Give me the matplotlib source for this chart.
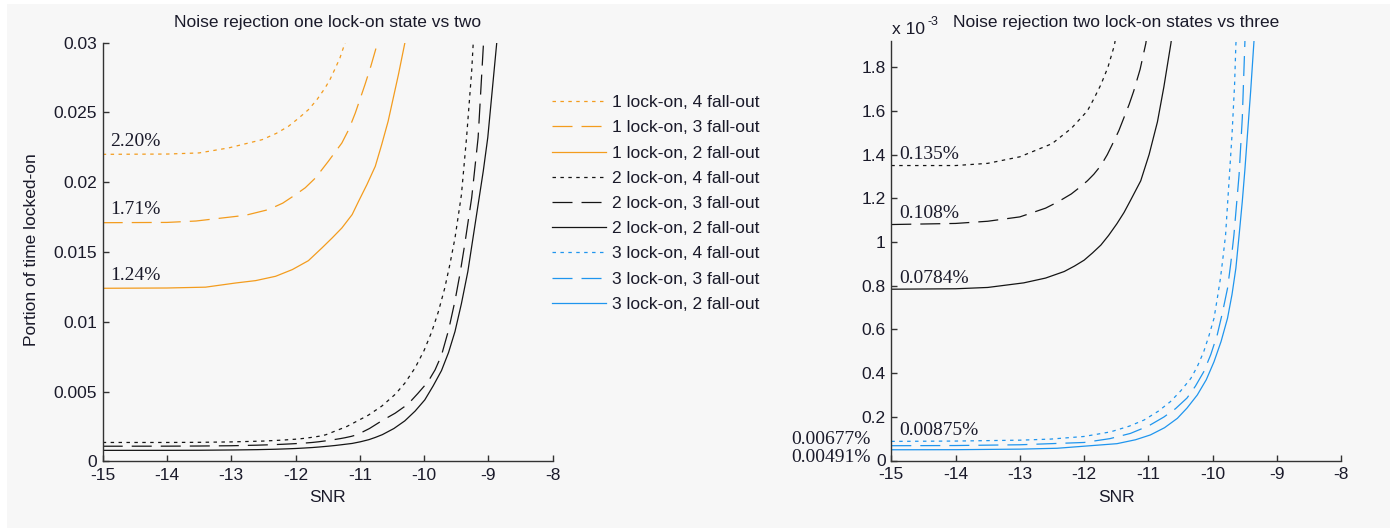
import matplotlib
matplotlib.use("Agg")
import matplotlib.pyplot as plt
from matplotlib.patches import Rectangle
from matplotlib.lines import Line2D

plt.rcParams["font.family"] = ["Liberation Sans", "DejaVu Sans"]
plt.rcParams["lines.scale_dashes"] = False

# ---------------------------------------------------------------- data
# SNR (dB) against portion of time spent locked-on.
# 1 lock-on state
snr_1l_4f = [-15, -14, -13.5, -13.04, -12.52, -12.3, -12.11, -11.95, -11.80, -11.67, -11.54,
             -11.46, -11.38, -11.31, -11.24, -11.15]
val_1l_4f = [0.0220, 0.02202, 0.0221, 0.02246, 0.02305, 0.0235, 0.02401, 0.0246, 0.02520, 0.0259, 0.02676,
             0.0274, 0.02819, 0.0289, 0.02986, 0.0310]

snr_1l_3f = [-15, -14, -13.55, -12.78, -12.42, -12.2, -12.0, -11.85, -11.69, -11.49, -11.28,
             -11.17, -11.07, -10.92, -10.83, -10.74, -10.70]
val_1l_3f = [0.0171, 0.01712, 0.01722, 0.01763, 0.01804, 0.0185, 0.01911, 0.0196, 0.02031, 0.0215, 0.02281,
             0.0238, 0.02497, 0.0270, 0.0283, 0.02974, 0.0305]

snr_1l_2f = [-15, -14, -13.4, -12.93, -12.62, -12.31, -12.05, -11.80, -11.59, -11.43, -11.28, -11.12,
             -11.02, -10.89, -10.76, -10.66, -10.56, -10.48, -10.40, -10.30, -10.27]
val_1l_2f = [0.0124, 0.01242, 0.01248, 0.01278, 0.01295, 0.01326, 0.01374, 0.01438, 0.01529, 0.01601, 0.01672, 0.01768,
             0.01863, 0.01983, 0.02114, 0.0227, 0.02437, 0.02604, 0.02771, 0.02998, 0.0310]

# 2 lock-on states
snr_2l_4f = [-15, -14, -13.5, -13, -12.5, -12.2, -11.95, -11.85, -11.74, -11.63, -11.53, -11.2, -10.87,
             -10.66, -10.45, -10.3, -10.14, -10.0, -9.88, -9.78, -9.68, -9.6, -9.52, -9.42, -9.34, -9.26, -9.23]
val_2l_4f = [1.35e-3, 1.35e-3, 1.36e-3, 1.39e-3, 1.45e-3, 1.52e-3, 1.60e-3, 1.655e-3, 1.72e-3, 1.80e-3, 1.90e-3, 2.5e-3, 3.3e-3,
             3.95e-3, 4.8e-3, 5.6e-3, 6.7e-3, 7.95e-3, 9.3e-3, 10.7e-3, 12.4e-3, 14.1e-3, 16.0e-3, 19.1e-3, 23.2e-3, 28.0e-3, 30.5e-3]

snr_2l_3f = [-15, -14, -13.5, -13, -12.6, -12.4, -12.2, -12.07, -11.95, -11.85, -11.74, -11.64, -11.54, -11.46,
             -11.38, -11.3, -11.23, -11.13, -11.04, -10.85, -10.66, -10.45, -10.25, -10.1, -9.94, -9.83, -9.73,
             -9.62, -9.52, -9.44, -9.37, -9.26, -9.16, -9.07]
val_2l_3f = [1.08e-3, 1.085e-3, 1.095e-3, 1.115e-3, 1.155e-3, 1.185e-3, 1.22e-3, 1.25e-3, 1.28e-3, 1.31e-3, 1.35e-3, 1.40e-3,
             1.46e-3, 1.51e-3, 1.57e-3, 1.63e-3, 1.69e-3, 1.79e-3, 1.91e-3, 2.35e-3, 2.9e-3, 3.45e-3, 4.1e-3, 4.85e-3,
             5.7e-3, 6.55e-3, 7.6e-3, 9.4e-3, 11.5e-3, 13.5e-3, 15.5e-3, 18.9e-3, 23.2e-3, 30.5e-3]

snr_2l_2f = [-15, -14, -13.5, -12.94, -12.6, -12.31, -12.15, -12.0, -11.87, -11.74, -11.62, -11.49, -11.38,
             -11.28, -11.12, -10.99, -10.86, -10.76, -10.65, -10.47, -10.30, -10.14, -9.99, -9.86, -9.73,
             -9.62, -9.52, -9.42, -9.32, -9.24, -9.16, -9.08, -9.01, -8.86]
val_2l_2f = [0.784e-3, 0.786e-3, 0.792e-3, 0.813e-3, 0.835e-3, 0.865e-3, 0.89e-3, 0.917e-3, 0.95e-3, 0.986e-3, 1.03e-3,
             1.084e-3, 1.135e-3, 1.19e-3, 1.28e-3, 1.40e-3, 1.55e-3, 1.71e-3, 1.91e-3, 2.35e-3, 2.9e-3, 3.6e-3,
             4.4e-3, 5.4e-3, 6.5e-3, 7.8e-3, 9.3e-3, 11.3e-3, 13.6e-3, 16.0e-3, 18.4e-3, 20.8e-3, 23.2e-3, 30.5e-3]

# 3 lock-on states
snr_3l_4f = [-15, -14, -13, -12.52, -12.0, -11.59, -11.3, -11.07, -10.85, -10.66, -10.5, -10.34, -10.24, -10.14,
             -10.06, -9.98, -9.93, -9.88, -9.84, -9.80, -9.75, -9.70, -9.66, -9.64, -9.62]
val_3l_4f = [8.75e-5, 8.9e-5, 9.3e-5, 9.8e-5, 1.10e-4, 1.31e-4, 1.57e-4, 1.85e-4, 2.25e-4, 2.69e-4, 3.18e-4, 3.76e-4,
             4.3e-4, 4.98e-4, 5.7e-4, 6.51e-4, 7.4e-4, 8.34e-4, 9.3e-4, 1.033e-3, 1.262e-3, 1.491e-3, 1.721e-3,
             1.904e-3, 2.0e-3]

snr_3l_3f = [-15, -14, -13, -12.0, -11.6, -11.28, -11.0, -10.76, -10.58, -10.40, -10.27, -10.14,
             -10.03, -9.93, -9.85, -9.77, -9.72, -9.67, -9.59, -9.54, -9.50, -9.49]
val_3l_3f = [6.77e-5, 6.85e-5, 7.2e-5, 8.25e-5, 1.0e-4, 1.24e-4, 1.58e-4, 1.99e-4, 2.37e-4, 2.86e-4, 3.4e-4, 4.06e-4,
             4.85e-4, 5.75e-4, 6.75e-4, 7.88e-4, 9.0e-4, 1.033e-3, 1.308e-3, 1.568e-3, 1.912e-3, 2.0e-3]

snr_3l_2f = [-15, -14, -13, -12.42, -11.49, -11.2, -10.97, -10.75, -10.55, -10.4, -10.24, -10.1, -9.98,
             -9.87, -9.77, -9.7, -9.64, -9.59, -9.54, -9.50, -9.46, -9.41, -9.36, -9.34]
val_3l_2f = [4.91e-5, 4.95e-5, 5.2e-5, 5.6e-5, 7.7e-5, 9.5e-5, 1.17e-4, 1.50e-4, 1.93e-4, 2.4e-4, 3.00e-4, 3.7e-4, 4.52e-4,
             5.45e-4, 6.51e-4, 7.6e-4, 8.80e-4, 1.03e-3, 1.186e-3, 1.33e-3, 1.491e-3, 1.69e-3, 1.912e-3, 2.0e-3]

labels = ["1 lock-on, 4 fall-out", "1 lock-on, 3 fall-out", "1 lock-on, 2 fall-out",
          "2 lock-on, 4 fall-out", "2 lock-on, 3 fall-out", "2 lock-on, 2 fall-out",
          "3 lock-on, 4 fall-out", "3 lock-on, 3 fall-out", "3 lock-on, 2 fall-out"]

x_ticks = [-15, -14, -13, -12, -11, -10, -9, -8]
left_yticks = [0, 0.005, 0.01, 0.015, 0.02, 0.025, 0.03]
left_yticklabels = ["0", "0.005", "0.01", "0.015", "0.02", "0.025", "0.03"]
right_yticks = [0, 0.2, 0.4, 0.6, 0.8, 1.0, 1.2, 1.4, 1.6, 1.8]
right_yticklabels = ["0", "0.2", "0.4", "0.6", "0.8", "1", "1.2", "1.4", "1.6", "1.8"]

# ---------------------------------------------------------------- styles
ORANGE = "#f39c1e"
BLACK = "#151515"
BLUE = "#1f95ee"
TEXT = "#1a1a2a"
PANEL = "#f7f7f7"
DOTTED = (0, (2.5, 3.2))
DASHED = (0, (14.4, 6.5))
SOLID = "-"
LW = 0.9

W, H = 1397, 531
fig = plt.figure(figsize=(W / 100, H / 100), dpi=100)
fig.patch.set_facecolor("white")
fig.patches.append(Rectangle((7 / W, 3 / H), (1390 - 7) / W, (528 - 4) / H,
                             transform=fig.transFigure, facecolor=PANEL,
                             edgecolor="none", zorder=-10))


def px_axes(x0, y0, x1, y1):
    """Axes box given in pixel coordinates measured from the top-left corner."""
    return fig.add_axes([x0 / W, 1 - y1 / H, (x1 - x0) / W, (y1 - y0) / H])


ax1 = px_axes(102.7, 42.7, 552.7, 461.3)
ax2 = px_axes(891.3, 41.0, 1341.3, 460.5)

for ax in (ax1, ax2):
    ax.patch.set_visible(False)
    for side in ("top", "right"):
        ax.spines[side].set_visible(False)
    for side in ("left", "bottom"):
        ax.spines[side].set_color("#333333")
        ax.spines[side].set_linewidth(1.0)
    ax.set_xlim(-15, -8)
    ax.set_xticks(x_ticks)
    ax.set_xticklabels([str(t) for t in x_ticks])
    ax.tick_params(axis="both", direction="in", length=4.5, width=1.0,
                   color="#333333", labelsize=12.5, labelcolor=TEXT)
    ax.tick_params(axis="x", pad=5)
    ax.tick_params(axis="y", pad=4)

ax1.set_ylim(0, 0.03)
ax1.set_yticks(left_yticks)
ax1.set_yticklabels(left_yticklabels)
ax2.set_ylim(0, 1.92)
ax2.set_yticks(right_yticks)
ax2.set_yticklabels(right_yticklabels)

series = [
    (snr_1l_4f, val_1l_4f, ORANGE, DOTTED),
    (snr_1l_3f, val_1l_3f, ORANGE, DASHED),
    (snr_1l_2f, val_1l_2f, ORANGE, SOLID),
    (snr_2l_4f, val_2l_4f, BLACK, DOTTED),
    (snr_2l_3f, val_2l_3f, BLACK, DASHED),
    (snr_2l_2f, val_2l_2f, BLACK, SOLID),
    (snr_3l_4f, val_3l_4f, BLUE, DOTTED),
    (snr_3l_3f, val_3l_3f, BLUE, DASHED),
    (snr_3l_2f, val_3l_2f, BLUE, SOLID),
]

# left panel: one vs two lock-on states; right panel: two vs three (scaled by 1e3)
for i, (x, y, c, ls) in enumerate(series):
    if i < 6:
        ax1.plot(x, y, color=c, linestyle=ls, linewidth=LW)
    if i >= 3:
        ax2.plot(x, [v * 1e3 for v in y], color=c, linestyle=ls, linewidth=LW)

serif = dict(family=["Liberation Serif", "DejaVu Serif"], size=14, color=TEXT)


def pct(v, fmt):
    return format(100 * v, fmt) + "%"


# starting levels labelled on the curves
for x, y, _, _ in series[:3]:
    ax1.annotate(pct(y[0], ".2f"), xy=(x[0], y[0]), xytext=(5.5, 6),
                 textcoords="offset points", va="baseline", ha="left", **serif)
for x, y, _, _ in series[3:7]:
    ax2.annotate(pct(y[0], ".3g"), xy=(x[0], y[0] * 1e3), xytext=(5.5, 4.5),
                 textcoords="offset points", va="baseline", ha="left", **serif)
ax2.annotate(pct(val_3l_3f[0], ".3g"), xy=(snr_3l_3f[0], val_3l_3f[0] * 1e3), xytext=(-15, 1.5),
             textcoords="offset points", va="baseline", ha="right",
             annotation_clip=False, **serif)
ax2.annotate(pct(val_3l_2f[0], ".3g"), xy=(snr_3l_2f[0], val_3l_2f[0] * 1e3), xytext=(-15, -8.6),
             textcoords="offset points", va="baseline", ha="right",
             annotation_clip=False, **serif)

# legend for all nine curves
handles = [Line2D([], [], color=c, linestyle=ls, linewidth=LW) for _, _, c, ls in series]
ax1.legend(handles, labels, loc="upper left", bbox_to_anchor=(551.7 / W, 1 - 95 / H),
           bbox_transform=fig.transFigure, frameon=False, borderpad=0, borderaxespad=0,
           handlelength=3.1, handletextpad=0.4, labelspacing=0.58,
           prop=dict(family=["Liberation Sans", "DejaVu Sans"], size=12.5), labelcolor=TEXT)

# titles and axis labels
fig.text(327.7 / W, 1 - 23 / H, "Noise rejection one lock-on state vs two",
         ha="center", va="center", fontsize=12.5, color=TEXT)
fig.text(1116.3 / W, 1 - 23 / H, "Noise rejection two lock-on states vs three",
         ha="center", va="center", fontsize=12.5, color=TEXT)
fig.text(327.7 / W, 1 - 497 / H, "SNR", ha="center", va="center", fontsize=12.5, color=TEXT)
fig.text(1116.3 / W, 1 - 497 / H, "SNR", ha="center", va="center", fontsize=12.5, color=TEXT)
fig.text(32 / W, 1 - 250 / H, "Portion of time locked-on", rotation=90,
         ha="center", va="center", fontsize=12.5, color=TEXT)

# exponent marker of the right y axis
fig.text(892 / W, 1 - 34 / H, "x 10", ha="left", va="baseline", fontsize=12.5, color=TEXT)
fig.text(927 / W, 1 - 25 / H, "-3", ha="left", va="baseline", fontsize=9, color=TEXT)

fig.savefig("out.png", dpi=100, facecolor=fig.get_facecolor())
